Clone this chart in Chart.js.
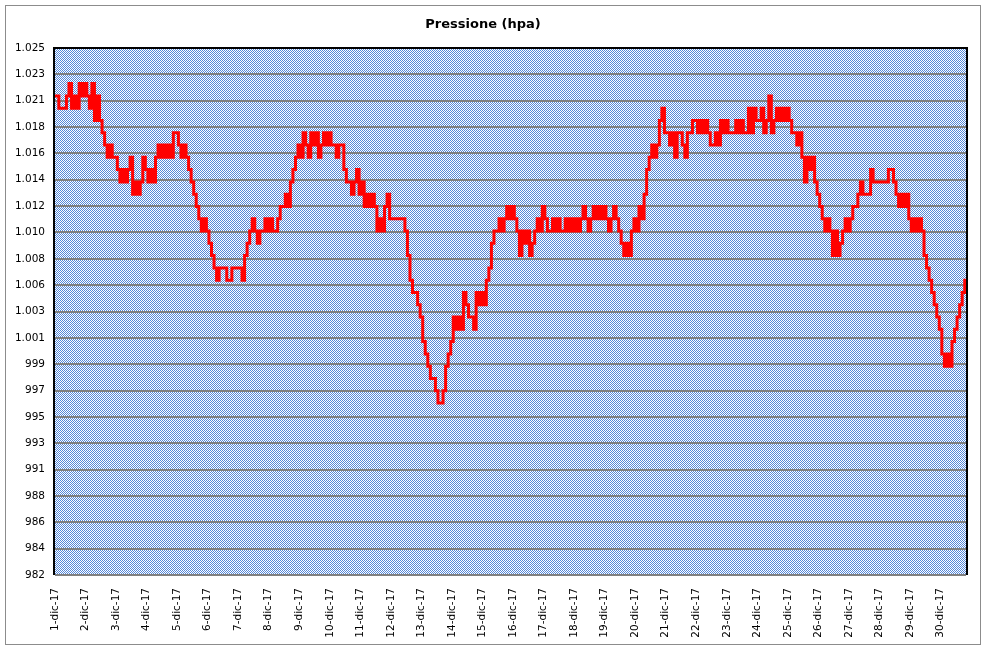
<!DOCTYPE html>
<html lang="it">
<head>
<meta charset="utf-8">
<title>Pressione (hpa)</title>
<script src="https://cdn.jsdelivr.net/npm/chart.js@4.4.1/dist/chart.umd.min.js"></script>
<style>
    body { margin: 0; background: #ffffff; }
    #wrap { position: relative; width: 986px; height: 647px; }
</style>
</head>
<body>
<div id="wrap"><canvas id="pressioneChart"></canvas></div>
<script>
// giorni (etichette asse X), un'etichetta ogni 12 letture (ogni 2 ore)
const giorni = [
    '1-dic-17', '2-dic-17', '3-dic-17', '4-dic-17', '5-dic-17', '6-dic-17', '7-dic-17', '8-dic-17',
    '9-dic-17', '10-dic-17', '11-dic-17', '12-dic-17', '13-dic-17', '14-dic-17', '15-dic-17',
    '16-dic-17', '17-dic-17', '18-dic-17', '19-dic-17', '20-dic-17', '21-dic-17', '22-dic-17',
    '23-dic-17', '24-dic-17', '25-dic-17', '26-dic-17', '27-dic-17', '28-dic-17', '29-dic-17',
    '30-dic-17'
];
const lettureGiorno = 12;

// pressione in hPa, una riga per giorno
const pressione = [
    1021, 1021, 1020, 1020, 1020, 1021, 1022, 1020, 1021, 1020, 1022, 1021,
    1022, 1021, 1020, 1022, 1019, 1021, 1019, 1018, 1017, 1016, 1017, 1016,
    1016, 1015, 1014, 1015, 1014, 1015, 1016, 1013, 1014, 1013, 1014, 1016,
    1015, 1014, 1015, 1014, 1016, 1017, 1016, 1017, 1016, 1017, 1016, 1018,
    1018, 1017, 1016, 1017, 1016, 1015, 1014, 1013, 1012, 1011, 1010, 1011,
    1010, 1009, 1008, 1007, 1006, 1007, 1007, 1007, 1006, 1006, 1007, 1007,
    1007, 1007, 1006, 1008, 1009, 1010, 1011, 1010, 1009, 1010, 1010, 1011,
    1010, 1011, 1010, 1010, 1011, 1012, 1012, 1013, 1012, 1014, 1015, 1016,
    1017, 1016, 1018, 1017, 1016, 1018, 1017, 1018, 1016, 1017, 1018, 1017,
    1018, 1017, 1017, 1016, 1017, 1017, 1015, 1014, 1014, 1013, 1014, 1015,
    1013, 1014, 1012, 1013, 1012, 1013, 1012, 1010, 1011, 1010, 1012, 1013,
    1011, 1011, 1011, 1011, 1011, 1011, 1010, 1008, 1006, 1005, 1005, 1004,
    1003, 1001, 1000, 999, 998, 998, 997, 996, 996, 997, 999, 1000,
    1001, 1003, 1002, 1003, 1002, 1005, 1004, 1003, 1003, 1002, 1005, 1004,
    1005, 1004, 1006, 1007, 1009, 1010, 1010, 1011, 1010, 1011, 1012, 1011,
    1012, 1011, 1010, 1008, 1010, 1009, 1010, 1008, 1009, 1010, 1011, 1010,
    1012, 1011, 1010, 1010, 1011, 1010, 1011, 1010, 1010, 1011, 1010, 1011,
    1010, 1011, 1010, 1011, 1012, 1011, 1010, 1011, 1012, 1011, 1012, 1011,
    1012, 1011, 1010, 1011, 1012, 1011, 1010, 1009, 1008, 1009, 1008, 1010,
    1011, 1010, 1012, 1011, 1013, 1015, 1016, 1017, 1016, 1017, 1019, 1020,
    1018, 1018, 1017, 1018, 1016, 1018, 1018, 1017, 1016, 1018, 1018, 1019,
    1019, 1018, 1019, 1018, 1019, 1018, 1017, 1017, 1018, 1017, 1019, 1018,
    1019, 1018, 1018, 1018, 1019, 1018, 1019, 1018, 1018, 1020, 1018, 1020,
    1019, 1019, 1020, 1018, 1019, 1021, 1018, 1019, 1020, 1019, 1020, 1019,
    1020, 1019, 1018, 1018, 1017, 1018, 1016, 1014, 1016, 1015, 1016, 1014,
    1013, 1012, 1011, 1010, 1011, 1010, 1008, 1010, 1008, 1009, 1010, 1011,
    1010, 1011, 1012, 1012, 1013, 1014, 1013, 1013, 1013, 1015, 1014, 1014,
    1014, 1014, 1014, 1014, 1015, 1015, 1014, 1013, 1012, 1013, 1012, 1013,
    1011, 1010, 1011, 1010, 1011, 1010, 1008, 1007, 1006, 1005, 1004, 1003,
    1002, 1000, 999, 1000, 999, 1001, 1002, 1003, 1004, 1005, 1006
];

// asse Y come in Excel: 20 intervalli da 2,145 hPa
const yMin = 982;
const yPasso = 2.145;
const yEtichette = [
    '982', '984', '986', '988', '991', '993', '995', '997', '999', '1.001', '1.003',
    '1.006', '1.008', '1.010', '1.012', '1.014', '1.016', '1.018', '1.021', '1.023', '1.025'
];

const etichette = pressione.map((v, i) => i % lettureGiorno === 0 ? giorni[i / lettureGiorno] : '');

function creaRetino() {
    const c = document.createElement('canvas');
    c.width = 2;
    c.height = 2;
    const g = c.getContext('2d');
    g.fillStyle = '#ffffff';
    g.fillRect(0, 0, 2, 2);
    g.fillStyle = '#5588d8';
    g.fillRect(0, 0, 1, 1);
    g.fillRect(1, 1, 1, 1);
    return c;
}

const sfondoPlugin = {
    id: 'sfondo',
    beforeDraw(chart) {
        const ctx = chart.ctx;
        const a = chart.chartArea;
        ctx.save();
        ctx.fillStyle = '#ffffff';
        ctx.fillRect(0, 0, chart.width, chart.height);
        ctx.imageSmoothingEnabled = false;
        ctx.fillStyle = ctx.createPattern(creaRetino(), 'repeat');
        ctx.fillRect(Math.round(a.left), Math.round(a.top), Math.round(a.right - a.left), Math.round(a.bottom - a.top));
        ctx.strokeStyle = '#8c8c8c';
        ctx.lineWidth = 1;
        ctx.strokeRect(5.5, 5.5, chart.width - 11, chart.height - 8);
        ctx.restore();
    },
    afterDraw(chart) {
        const ctx = chart.ctx;
        const a = chart.chartArea;
        ctx.save();
        ctx.strokeStyle = '#000000';
        ctx.lineWidth = 2;
        ctx.beginPath();
        ctx.moveTo(a.left - 1, a.bottom);
        ctx.lineTo(a.left - 1, a.top);
        ctx.lineTo(a.right + 1, a.top);
        ctx.lineTo(a.right + 1, a.bottom);
        ctx.stroke();
        ctx.restore();
    }
};

const font = { family: "'DejaVu Sans', Verdana, sans-serif", size: 10.5 };

const ctxPressione = document.getElementById('pressioneChart');
const pressioneChart = new Chart(ctxPressione, {
    type: 'line',
    data: {
        labels: etichette,
        datasets: [{
            label: 'Pressione',
            data: pressione,
            borderColor: '#ff0000',
            borderWidth: 3,
            pointRadius: 0,
            stepped: 'middle',
            fill: false
        }]
    },
    options: {
        responsive: true,
        maintainAspectRatio: false,
        animation: false,
        layout: { padding: { left: 0, right: 20, top: 6, bottom: 0 } },
        plugins: {
            legend: { display: false },
            tooltip: { enabled: false },
            title: {
                display: true,
                text: 'Pressione (hpa)',
                color: '#000000',
                font: { family: "'DejaVu Sans', Verdana, sans-serif", size: 13, weight: 'bold' },
                padding: { top: 11, bottom: 15.4 }
            }
        },
        scales: {
            x: {
                type: 'category',
                offset: false,
                grid: { display: false },
                border: { display: false },
                ticks: {
                    autoSkip: false,
                    maxRotation: 90,
                    minRotation: 90,
                    padding: 5,
                    color: '#000000',
                    font: font
                },
                afterFit(scale) { scale.height = 72; }
            },
            y: {
                min: yMin,
                max: yMin + yPasso * (yEtichette.length - 1),
                grid: { color: '#808080', lineWidth: 2, drawTicks: false },
                border: { display: false },
                ticks: {
                    padding: 10,
                    color: '#000000',
                    font: font,
                    callback: (value, index) => yEtichette[index]
                },
                afterBuildTicks(scale) {
                    scale.ticks = yEtichette.map((t, i) => ({ value: yMin + i * yPasso }));
                },
                afterFit(scale) { scale.width = 55; }
            }
        }
    },
    plugins: [sfondoPlugin]
});
</script>
</body>
</html>
